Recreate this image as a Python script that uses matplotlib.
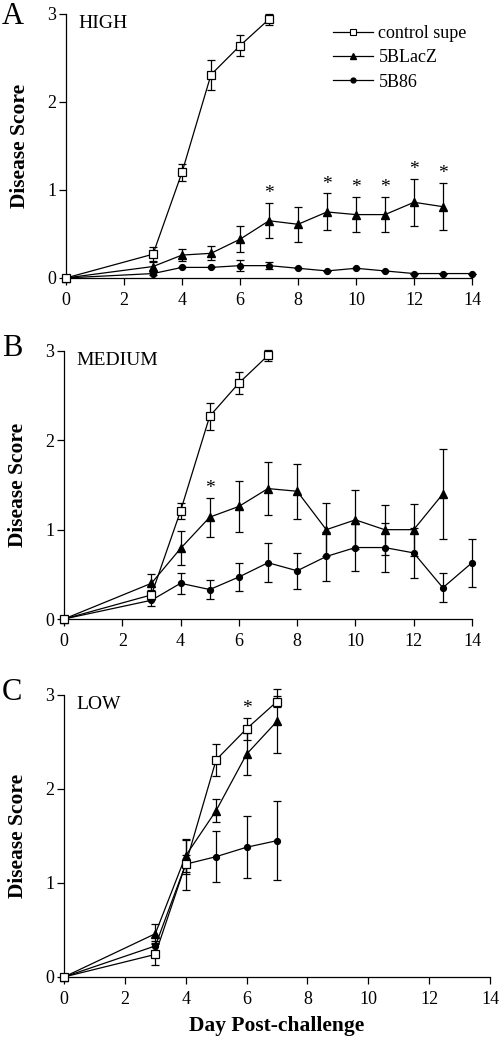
#!/usr/bin/env python3
# coding=utf-8

import numpy as np
import matplotlib
matplotlib.use('Agg')
import matplotlib.pyplot as plt
from matplotlib.lines import Line2D

plt.rcParams['font.family'] = ['Liberation Serif', 'DejaVu Serif']

# ---- panel A: HIGH ----
a_ctrl_day = [0, 3, 4, 5, 6, 7]
a_ctrl = [0, 0.27, 1.20, 2.31, 2.64, 2.94]
a_ctrl_err = [0, 0.08, 0.10, 0.17, 0.12, 0.06]
a_lacz_day = [0, 3, 4, 5, 6, 7, 8, 9, 10, 11, 12, 13]
a_lacz = [0, 0.13, 0.26, 0.28, 0.44, 0.65, 0.61, 0.75, 0.72, 0.72, 0.86, 0.81]
a_lacz_err = [0, 0.05, 0.07, 0.08, 0.15, 0.20, 0.20, 0.21, 0.20, 0.20, 0.27, 0.27]
a_b86_day = [0, 3, 4, 5, 6, 7, 8, 9, 10, 11, 12, 13, 14]
a_b86 = [0, 0.05, 0.12, 0.12, 0.14, 0.14, 0.11, 0.08, 0.11, 0.08, 0.05, 0.05, 0.05]
a_b86_err = [0, 0.02, 0, 0, 0.06, 0.04, 0, 0, 0, 0, 0, 0, 0]
a_star_days = [7, 9, 10, 11, 12, 13]

# ---- panel B: MEDIUM ----
b_ctrl_day = [0, 3, 4, 5, 6, 7]
b_ctrl = [0, 0.27, 1.21, 2.27, 2.64, 2.95]
b_ctrl_err = [0, 0.06, 0.09, 0.15, 0.12, 0.06]
b_lacz_day = [0, 3, 4, 5, 6, 7, 8, 9, 10, 11, 12, 13]
b_lacz = [0, 0.40, 0.79, 1.14, 1.26, 1.46, 1.43, 1.00, 1.11, 1.00, 1.00, 1.40]
b_lacz_err = [0, 0.10, 0.19, 0.22, 0.29, 0.30, 0.31, 0.30, 0.33, 0.28, 0.29, 0.50]
b_b86_day = [0, 3, 4, 5, 6, 7, 8, 9, 10, 11, 12, 13, 14]
b_b86 = [0, 0.21, 0.40, 0.33, 0.47, 0.63, 0.54, 0.70, 0.80, 0.80, 0.74, 0.35, 0.63]
b_b86_err = [0, 0.06, 0.12, 0.11, 0.16, 0.22, 0.20, 0.27, 0.26, 0.27, 0.28, 0.16, 0.27]
b_star_days = [5]

# ---- panel C: LOW ----
c_ctrl_day = [0, 3, 4, 5, 6, 7]
c_ctrl = [0, 0.24, 1.20, 2.31, 2.64, 2.93]
c_ctrl_err = [0, 0.11, 0.10, 0.17, 0.12, 0.06]
c_lacz_day = [0, 3, 4, 5, 6, 7]
c_lacz = [0, 0.46, 1.29, 1.77, 2.37, 2.72]
c_lacz_err = [0, 0.10, 0.17, 0.12, 0.22, 0.34]
c_b86_day = [0, 3, 4, 5, 6, 7]
c_b86 = [0, 0.33, 1.20, 1.28, 1.38, 1.45]
c_b86_err = [0, 0.05, 0.27, 0.27, 0.33, 0.42]
c_star_days = [6]

fig = plt.figure(figsize=(5, 10.43), dpi=100)


def draw_panel(rect, letter, title, ctrl, lacz, b86, stars, star_series, legend=False, xlabel=False):
    ax = fig.add_axes(rect)
    kw = dict(color='black', linewidth=0.9, elinewidth=0.9, capsize=2.7, capthick=0.9, clip_on=False)
    ax.errorbar(b86[0], b86[1], yerr=b86[2], marker='o', markersize=4.2, zorder=3, **kw)
    ax.errorbar(lacz[0], lacz[1], yerr=lacz[2], marker='^', markersize=5.5, zorder=4, **kw)
    ax.errorbar(ctrl[0], ctrl[1], yerr=ctrl[2], marker='s', markersize=5.2, markerfacecolor='white',
                markeredgewidth=0.9, zorder=5, **kw)
    sx, sy, se = star_series
    for d in stars:
        i = list(sx).index(d)
        ax.text(d, sy[i] + se[i] + 0.01, '*', ha='center', va='bottom', fontsize=14)
    ax.set_xlim(0, 14)
    ax.set_ylim(0, 3)
    ax.set_xticks(range(0, 15, 2))
    ax.set_yticks([0, 1, 2, 3])
    for s in ['top', 'right']:
        ax.spines[s].set_visible(False)
    ax.spines['left'].set_linewidth(0.9)
    ax.spines['bottom'].set_linewidth(0.9)
    ax.tick_params(direction='out', length=5, width=0.9, labelsize=13)
    ax.tick_params(axis='x', pad=5)
    ax.tick_params(axis='y', pad=2)
    ax.set_ylabel('Disease Score', fontsize=15.5, fontweight='bold', labelpad=12)
    ax.text(12 / (rect[2] * 500), 0.995, title, transform=ax.transAxes, fontsize=14, va='top', ha='left')
    fig.text(0.004, min(rect[1] + rect[3] + 0.016, 0.998), letter, fontsize=22, va='top', ha='left')
    if legend:
        handles = [
            Line2D([], [], color='black', linewidth=0.9, marker='s', markersize=4,
                   markerfacecolor='white', markeredgewidth=0.8),
            Line2D([], [], color='black', linewidth=0.9, marker='^', markersize=4.5),
            Line2D([], [], color='black', linewidth=0.9, marker='o', markersize=3.5),
        ]
        labels = ['control supe', '5BLacZ', '5B86']
        ax.legend(handles, labels, loc='upper right', bbox_to_anchor=(1.005, 0.985), frameon=False,
                  fontsize=13, handlelength=2.2, handletextpad=0.3, labelspacing=0.4, borderaxespad=0)
    if xlabel:
        ax.set_xlabel('Day Post-challenge', fontsize=15.5, fontweight='bold', labelpad=6)
    return ax


draw_panel([0.132, 0.7335, 0.812, 0.2531], 'A', 'HIGH',
           (a_ctrl_day, a_ctrl, a_ctrl_err), (a_lacz_day, a_lacz, a_lacz_err),
           (a_b86_day, a_b86, a_b86_err), a_star_days, (a_lacz_day, a_lacz, a_lacz_err), legend=True)
draw_panel([0.128, 0.4065, 0.816, 0.257], 'B', 'MEDIUM',
           (b_ctrl_day, b_ctrl, b_ctrl_err), (b_lacz_day, b_lacz, b_lacz_err),
           (b_b86_day, b_b86, b_b86_err), b_star_days, (b_lacz_day, b_lacz, b_lacz_err))
draw_panel([0.128, 0.0633, 0.852, 0.2704], 'C', 'LOW',
           (c_ctrl_day, c_ctrl, c_ctrl_err), (c_lacz_day, c_lacz, c_lacz_err),
           (c_b86_day, c_b86, c_b86_err), c_star_days, (c_ctrl_day, c_ctrl, c_ctrl_err), xlabel=True)

fig.savefig('out.png', dpi=100)
